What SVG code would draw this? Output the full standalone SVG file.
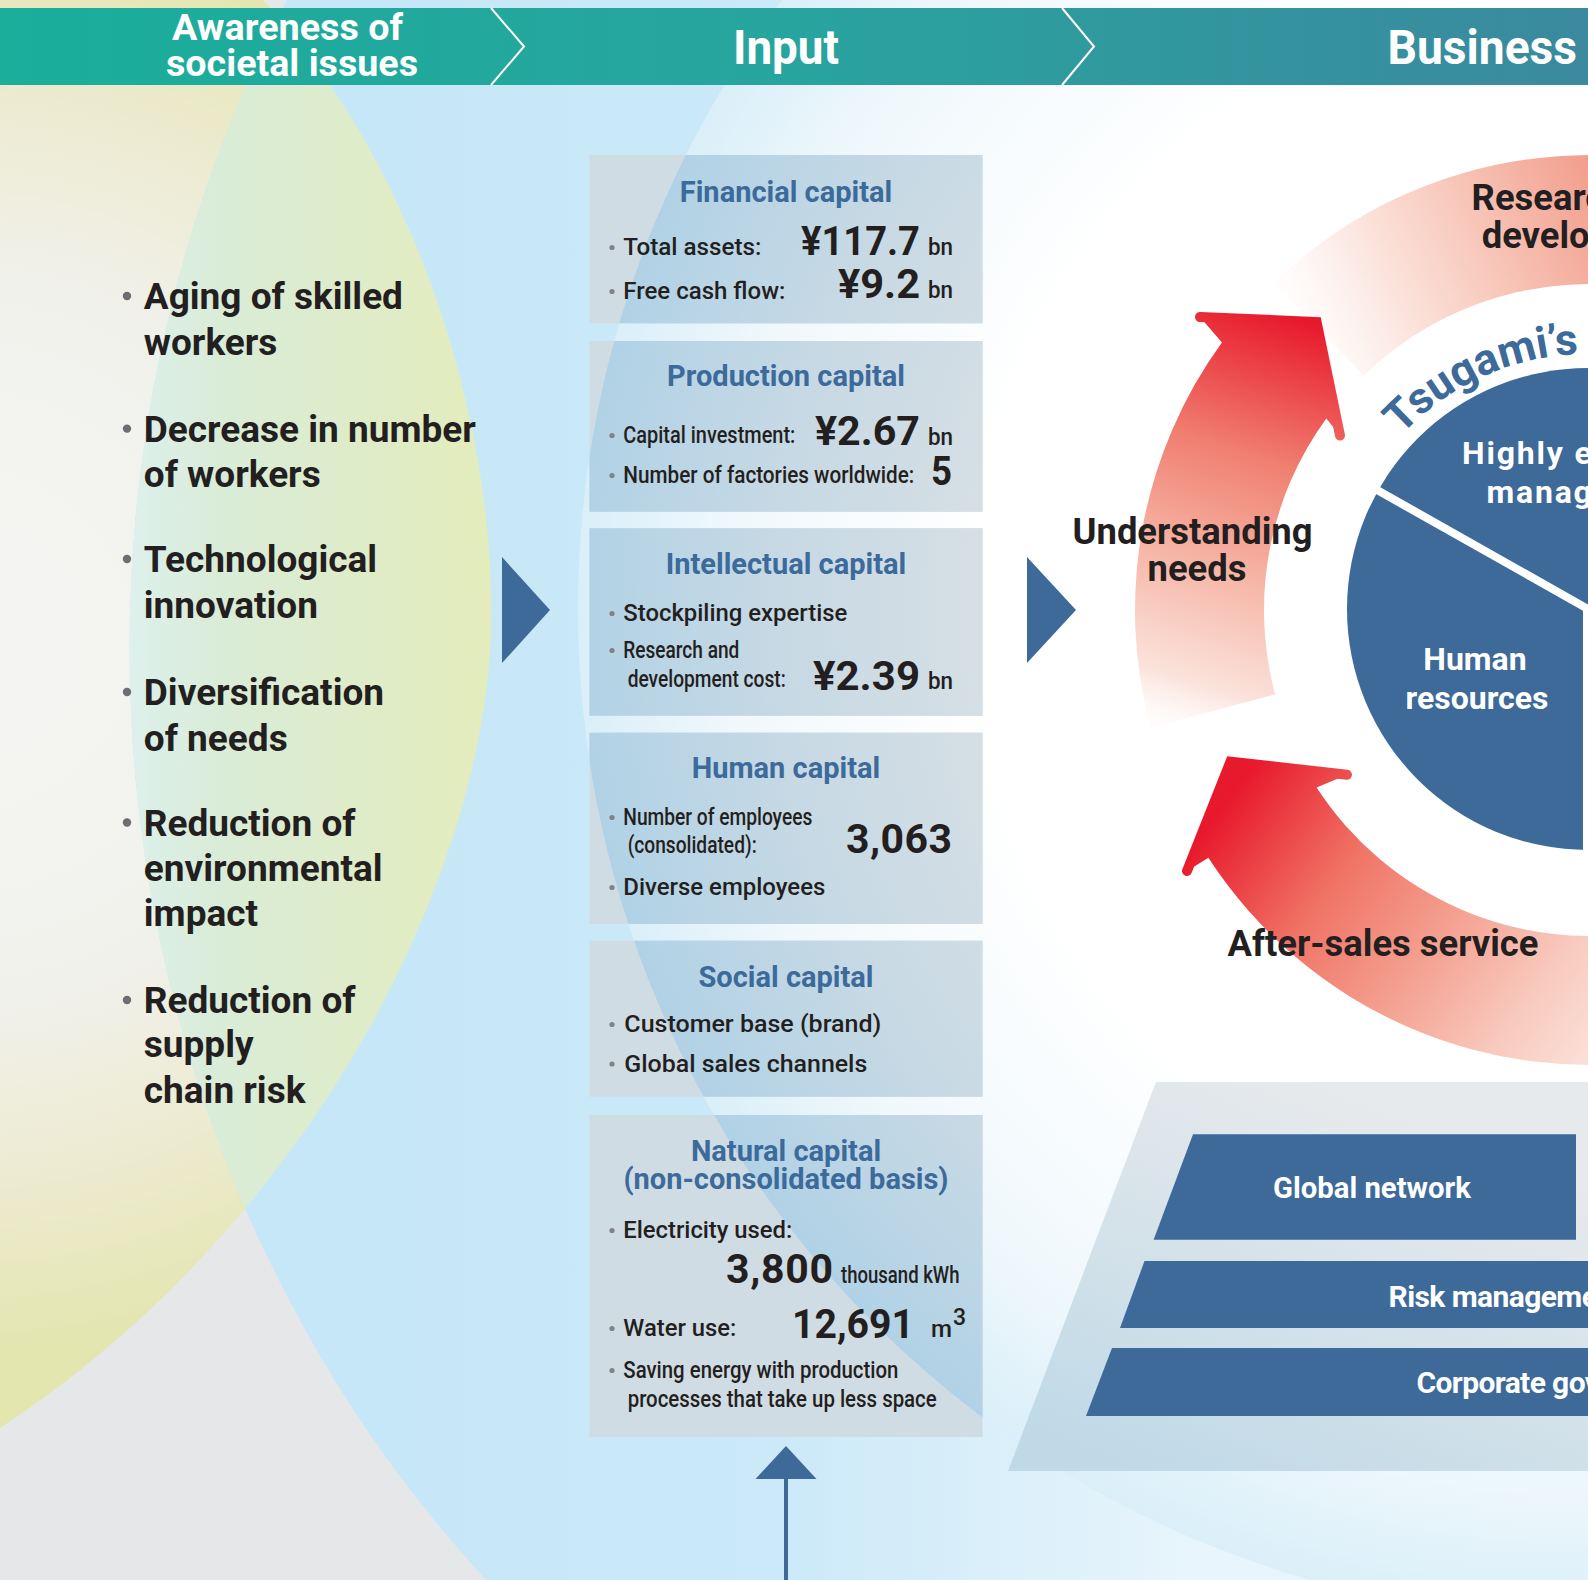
<svg xmlns="http://www.w3.org/2000/svg" xmlns:xlink="http://www.w3.org/1999/xlink" width="1588" height="1580" viewBox="0 0 1588 1580">
<style>
text{font-family:Roboto,"Liberation Sans",sans-serif}
.hdr{font-weight:700;fill:#fff}
.issue{font-size:37px;font-weight:700;fill:#231f20}
.cap{font-size:29px;font-weight:700;fill:#3c6a9a;text-anchor:middle}
.item{font-size:23px;font-weight:500;fill:#231f20}
.num{font-size:41px;font-weight:700;fill:#231f20}
.unit{font-size:23px;font-weight:500;fill:#231f20}
.lbl{font-size:36.4px;font-weight:700;fill:#231f20}
.wht{font-weight:700;fill:#fff}
.bul{fill:#808285}
.ibul{fill:#6d6e71}
.box{fill:#d0dce4}
.boxin{fill:url(#boxBlue)}
.navy{fill:#3d6a99}
</style>
<defs>
<linearGradient id="hdrGrad" gradientUnits="userSpaceOnUse" x1="0" y1="0" x2="1588" y2="0">
<stop offset="0" stop-color="#1aae9b"/><stop offset="0.5" stop-color="#28a49f"/><stop offset="1" stop-color="#3b899e"/>
</linearGradient>
<radialGradient id="yelGrad" gradientUnits="userSpaceOnUse" cx="-40" cy="640" r="720">
<stop offset="0" stop-color="#f5f5f4"/><stop offset="0.5" stop-color="#f1f1ec"/><stop offset="0.78" stop-color="#eceacd"/><stop offset="1" stop-color="#e3e6ae"/>
</radialGradient>
<linearGradient id="greenGrad" gradientUnits="userSpaceOnUse" x1="130" y1="0" x2="495" y2="0">
<stop offset="0" stop-color="#ddf0ec"/><stop offset="0.25" stop-color="#d9ecd7"/><stop offset="1" stop-color="#e4ecbb"/>
</linearGradient>
<linearGradient id="blueGrad" gradientUnits="userSpaceOnUse" x1="250" y1="0" x2="1200" y2="0">
<stop offset="0" stop-color="#c5e7f8"/><stop offset="0.55" stop-color="#cbe9f8"/><stop offset="1" stop-color="#e8f5fc"/>
</linearGradient>
<radialGradient id="c2Grad" gradientUnits="userSpaceOnUse" cx="1588" cy="609" r="1010">
<stop offset="0" stop-color="#ffffff"/><stop offset="0.6" stop-color="#ffffff"/><stop offset="0.85" stop-color="#f0f8fc"/><stop offset="1" stop-color="#daeff9"/>
</radialGradient>
<radialGradient id="boxBlue" gradientUnits="userSpaceOnUse" cx="1588" cy="609" r="1010">
<stop offset="0" stop-color="#d8e0e6"/><stop offset="0.6" stop-color="#d6dfe5"/><stop offset="0.8" stop-color="#c7d9e4"/><stop offset="1" stop-color="#b1d2e6"/>
</radialGradient>
<linearGradient id="a1Grad" gradientUnits="userSpaceOnUse" x1="1165" y1="750" x2="1300" y2="320">
<stop offset="0" stop-color="#ffffff" stop-opacity="0"/><stop offset="0.16" stop-color="#fbe3dc"/><stop offset="0.42" stop-color="#f6b5a6"/><stop offset="0.68" stop-color="#f07f70"/><stop offset="1" stop-color="#e8192c"/>
</linearGradient>
<linearGradient id="a2Grad" gradientUnits="userSpaceOnUse" x1="1600" y1="1060" x2="1235" y2="790">
<stop offset="0" stop-color="#fbe2da"/><stop offset="0.2" stop-color="#f8cabe"/><stop offset="0.45" stop-color="#f4a090"/><stop offset="0.7" stop-color="#f07466"/><stop offset="1" stop-color="#e8192c"/>
</linearGradient>
<linearGradient id="cGrad" gradientUnits="userSpaceOnUse" x1="1260" y1="330" x2="1600" y2="170">
<stop offset="0" stop-color="#ffffff" stop-opacity="0"/><stop offset="0.25" stop-color="#fdf0ec"/><stop offset="0.6" stop-color="#f8cabd"/><stop offset="1" stop-color="#f29c8b"/>
</linearGradient>
<linearGradient id="pyrGrad" gradientUnits="userSpaceOnUse" x1="1300" y1="1082" x2="1150" y2="1471">
<stop offset="0" stop-color="#e4e7ea"/><stop offset="1" stop-color="#bcd7e5"/>
</linearGradient>
<clipPath id="c2clip"><circle cx="1588" cy="609" r="1010"/></clipPath>
<clipPath id="blueClip"><ellipse cx="1344.6" cy="648" rx="1215" ry="1317"/></clipPath>
<path id="tsugamiArc" d="M 1401.5 435.1 A 255 255 0 0 1 1843 609"/>
</defs>

<g id="background">
<rect x="0" y="0" width="1588" height="1580" fill="#e6e7e9"/>
<path d="M 263 0 C 405 152 496 405 491 628 C 486 861 324 1215 0 1428 L 0 0 Z" fill="url(#yelGrad)"/>
<ellipse cx="1344.6" cy="648" rx="1215" ry="1317" fill="url(#blueGrad)"/>
<path d="M 263 0 C 405 152 496 405 491 628 C 486 861 324 1215 0 1428 L 0 0 Z" fill="url(#greenGrad)" clip-path="url(#blueClip)"/>
<circle cx="1588" cy="609" r="1010" fill="url(#c2Grad)"/>
</g>

<g id="header">
<rect x="0" y="8" width="1588" height="77" fill="url(#hdrGrad)"/>
<polyline points="491,8 524,46.5 491,85" fill="none" stroke="#fff" stroke-width="2"/>
<polyline points="1062,8 1094,46.5 1062,85" fill="none" stroke="#fff" stroke-width="2"/>
<text class="hdr" x="172" y="40" font-size="37" textLength="231" lengthAdjust="spacingAndGlyphs">Awareness of</text>
<text class="hdr" x="166" y="76" font-size="37" textLength="252" lengthAdjust="spacingAndGlyphs">societal issues</text>
<text class="hdr" x="733" y="64" font-size="48" textLength="106" lengthAdjust="spacingAndGlyphs">Input</text>
<text class="hdr" x="1387.5" y="64" font-size="48" textLength="189.5" lengthAdjust="spacingAndGlyphs">Business</text>
</g>

<g id="societal-issues">
<circle class="ibul" cx="127" cy="296" r="4.2"/>
<text class="issue" x="143.8" y="309">Aging of skilled</text>
<text class="issue" x="143.8" y="354.5">workers</text>
<circle class="ibul" cx="127" cy="428.6" r="4.2"/>
<text class="issue" x="143.8" y="441.6">Decrease in number</text>
<text class="issue" x="143.8" y="487">of workers</text>
<circle class="ibul" cx="127" cy="559" r="4.2"/>
<text class="issue" x="143.8" y="572">Technological</text>
<text class="issue" x="143.8" y="618">innovation</text>
<circle class="ibul" cx="127" cy="692" r="4.2"/>
<text class="issue" x="143.8" y="705">Diversification</text>
<text class="issue" x="143.8" y="750.5">of needs</text>
<circle class="ibul" cx="127" cy="822.5" r="4.2"/>
<text class="issue" x="143.8" y="835.5">Reduction of</text>
<text class="issue" x="143.8" y="881">environmental</text>
<text class="issue" x="143.8" y="925.7">impact</text>
<circle class="ibul" cx="127" cy="1000" r="4.2"/>
<text class="issue" x="143.8" y="1013">Reduction of</text>
<text class="issue" x="143.8" y="1057">supply</text>
<text class="issue" x="143.8" y="1103">chain risk</text>
</g>

<g id="financial-capital">
<rect class="box" x="589.5" y="155" width="393" height="168.3"/>
<rect class="boxin" x="589.5" y="155" width="393" height="168.3" clip-path="url(#c2clip)"/>
<text class="cap" x="786" y="201.7">Financial capital</text>
<circle class="bul" cx="612" cy="247.5" r="2.6"/>
<text class="item" x="623.3" y="255" textLength="138" lengthAdjust="spacingAndGlyphs">Total assets:</text>
<text class="num" x="801" y="255" textLength="119" lengthAdjust="spacingAndGlyphs">¥117.7</text>
<text class="unit" x="928" y="255" textLength="25" lengthAdjust="spacingAndGlyphs">bn</text>
<circle class="bul" cx="612" cy="291.5" r="2.6"/>
<text class="item" x="623.3" y="299" textLength="162" lengthAdjust="spacingAndGlyphs">Free cash flow:</text>
<text class="num" x="838" y="298" textLength="82" lengthAdjust="spacingAndGlyphs">¥9.2</text>
<text class="unit" x="928" y="298" textLength="25" lengthAdjust="spacingAndGlyphs">bn</text>
</g>

<g id="production-capital">
<rect class="box" x="589.5" y="341" width="393" height="170.7"/>
<rect class="boxin" x="589.5" y="341" width="393" height="170.7" clip-path="url(#c2clip)"/>
<text class="cap" x="786" y="386">Production capital</text>
<circle class="bul" cx="612" cy="435.5" r="2.6"/>
<text class="item" x="623.3" y="443" textLength="172" lengthAdjust="spacingAndGlyphs">Capital investment:</text>
<text class="num" x="815" y="445" textLength="105" lengthAdjust="spacingAndGlyphs">¥2.67</text>
<text class="unit" x="928" y="445" textLength="25" lengthAdjust="spacingAndGlyphs">bn</text>
<circle class="bul" cx="612" cy="475.5" r="2.6"/>
<text class="item" x="623.3" y="483" textLength="291" lengthAdjust="spacingAndGlyphs">Number of factories worldwide:</text>
<text class="num" x="931" y="485" textLength="21" lengthAdjust="spacingAndGlyphs">5</text>
</g>

<g id="intellectual-capital">
<rect class="box" x="589.5" y="528.3" width="393" height="187.4"/>
<rect class="boxin" x="589.5" y="528.3" width="393" height="187.4" clip-path="url(#c2clip)"/>
<text class="cap" x="786" y="574">Intellectual capital</text>
<circle class="bul" cx="612" cy="613.5" r="2.6"/>
<text class="item" x="623.3" y="621" textLength="224" lengthAdjust="spacingAndGlyphs">Stockpiling expertise</text>
<circle class="bul" cx="612" cy="650.5" r="2.6"/>
<text class="item" x="623.3" y="658" textLength="116" lengthAdjust="spacingAndGlyphs">Research and</text>
<text class="item" x="627.7" y="687" textLength="158" lengthAdjust="spacingAndGlyphs">development cost:</text>
<text class="num" x="813" y="690" textLength="107" lengthAdjust="spacingAndGlyphs">¥2.39</text>
<text class="unit" x="928" y="689" textLength="25" lengthAdjust="spacingAndGlyphs">bn</text>
</g>

<g id="human-capital">
<rect class="box" x="589.5" y="732.7" width="393" height="191.3"/>
<rect class="boxin" x="589.5" y="732.7" width="393" height="191.3" clip-path="url(#c2clip)"/>
<text class="cap" x="786" y="778">Human capital</text>
<circle class="bul" cx="612" cy="817.5" r="2.6"/>
<text class="item" x="623.3" y="825" textLength="189" lengthAdjust="spacingAndGlyphs">Number of employees</text>
<text class="item" x="627.7" y="853" textLength="129" lengthAdjust="spacingAndGlyphs">(consolidated):</text>
<text class="num" x="846" y="853" font-size="40" textLength="106">3,063</text>
<circle class="bul" cx="612" cy="887.5" r="2.6"/>
<text class="item" x="623.3" y="895" textLength="202" lengthAdjust="spacingAndGlyphs">Diverse employees</text>
</g>

<g id="social-capital">
<rect class="box" x="589.5" y="940.7" width="393" height="156"/>
<rect class="boxin" x="589.5" y="940.7" width="393" height="156" clip-path="url(#c2clip)"/>
<text class="cap" x="786" y="986.7">Social capital</text>
<circle class="bul" cx="612" cy="1024.5" r="2.6"/>
<text class="item" x="624.3" y="1032" textLength="257" lengthAdjust="spacingAndGlyphs">Customer base (brand)</text>
<circle class="bul" cx="612" cy="1064" r="2.6"/>
<text class="item" x="624.3" y="1071.5" textLength="243" lengthAdjust="spacingAndGlyphs">Global sales channels</text>
</g>

<g id="natural-capital">
<rect class="box" x="589.5" y="1115" width="393" height="322"/>
<rect class="boxin" x="589.5" y="1115" width="393" height="322" clip-path="url(#c2clip)"/>
<text class="cap" x="786" y="1160.5">Natural capital</text>
<text class="cap" x="786" y="1189">(non-consolidated basis)</text>
<circle class="bul" cx="612" cy="1230.5" r="2.6"/>
<text class="item" x="623.3" y="1238" textLength="169" lengthAdjust="spacingAndGlyphs">Electricity used:</text>
<text class="num" x="726" y="1283" font-size="40" textLength="107">3,800</text>
<text class="unit" x="841" y="1283" font-size="21" textLength="118.5" lengthAdjust="spacingAndGlyphs">thousand kWh</text>
<circle class="bul" cx="612" cy="1328.5" r="2.6"/>
<text class="item" x="623.3" y="1336" textLength="113" lengthAdjust="spacingAndGlyphs">Water use:</text>
<text class="num" x="792" y="1338" textLength="122" lengthAdjust="spacingAndGlyphs">12,691</text>
<text class="unit" x="931" y="1337" font-size="24" textLength="21" lengthAdjust="spacingAndGlyphs">m</text>
<text class="unit" x="953" y="1325" font-size="11">3</text>
<circle class="bul" cx="612" cy="1370.5" r="2.6"/>
<text class="item" x="623.3" y="1378" textLength="275" lengthAdjust="spacingAndGlyphs">Saving energy with production</text>
<text class="item" x="627.7" y="1407" textLength="309" lengthAdjust="spacingAndGlyphs">processes that take up less space</text>
</g>

<g id="business-ring">
<path d="M 1273.9 282.7 A 455 455 0 0 1 1817.5 216 L 1753 327.7 A 326 326 0 0 0 1363.5 375.5 Z" fill="url(#cGrad)"/>
</g>

<g id="connectors">
<polygon class="navy" points="502,557 550,610 502,663"/>
<polygon class="navy" points="1027,557 1076,610 1027,663"/>
<polygon class="navy" points="786,1446 816.5,1479 755.5,1479"/>
<line x1="786" y1="1476" x2="786" y2="1580" stroke="#3d6a99" stroke-width="4"/>
<g id="arrow-understanding">
<path d="M 1150.5 727.8 A 455 455 0 0 1 1221.9 342.6 L 1200 317 L 1316.6 322 L 1340 435.5 L 1326.3 418.4 A 326 326 0 0 0 1275.1 694.4 Z" fill="url(#a1Grad)"/>
<polyline points="1200,317 1316.6,322 1340,435.5" fill="none" stroke="url(#a1Grad)" stroke-width="10" stroke-linecap="round" stroke-linejoin="miter"/>
</g>
<g id="arrow-aftersales">
<path d="M 1669 1058.1 A 455 455 0 0 1 1208.4 857.8 L 1187 871 L 1230.5 761.6 L 1347 774.8 L 1316.6 787.6 A 326 326 0 0 0 1646.6 931 Z" fill="url(#a2Grad)"/>
<polyline points="1187,871 1230.5,761.6 1347,774.8" fill="none" stroke="url(#a2Grad)" stroke-width="10" stroke-linecap="round" stroke-linejoin="miter"/>
</g>
</g>

<g id="cycle-labels">
<text class="lbl" x="1471.6" y="209.6">Research and</text>
<text class="lbl" x="1481.7" y="248">development</text>
<text class="lbl" x="1072.5" y="544">Understanding</text>
<text class="lbl" x="1147.5" y="581.4">needs</text>
<text class="lbl" x="1227.5" y="956">After-sales service</text>
</g>

<g id="tsugami-strengths">
<circle class="navy" cx="1588" cy="609" r="241"/>
<line x1="1588" y1="609" x2="1370" y2="486" stroke="#fff" stroke-width="8"/>
<line x1="1587" y1="609" x2="1587" y2="860" stroke="#fff" stroke-width="8"/>
<text font-size="44" font-weight="700" fill="#3c6a9a"><textPath href="#tsugamiArc" xlink:href="#tsugamiArc">Tsugami’s strengths</textPath></text>
<text class="wht" x="1462" y="464" font-size="32" letter-spacing="1.8">Highly efficient</text>
<text class="wht" x="1486.5" y="503" font-size="32" letter-spacing="1.8">management</text>
<text class="wht" x="1475" y="669.5" font-size="32" text-anchor="middle">Human</text>
<text class="wht" x="1477" y="709" font-size="32" text-anchor="middle">resources</text>
</g>

<g id="foundation">
<polygon points="1156,1082 1600,1082 1600,1471 1008,1471" fill="url(#pyrGrad)" opacity="0.9"/>
<g id="global-network">
<polygon class="navy" points="1193,1134.3 1576,1134.3 1576,1239.7 1153.6,1239.7"/>
<text class="wht" x="1372" y="1198" font-size="30" text-anchor="middle" textLength="198" lengthAdjust="spacingAndGlyphs">Global network</text>
</g>
<g id="risk-management">
<polygon class="navy" points="1144.5,1261 1600,1261 1600,1328 1120,1328"/>
<text class="wht" x="1388.6" y="1306.7" font-size="30" letter-spacing="-0.6">Risk management</text>
</g>
<g id="corporate-governance">
<polygon class="navy" points="1112,1348 1600,1348 1600,1416 1086,1416"/>
<text class="wht" x="1416.4" y="1393" font-size="30" letter-spacing="-0.6">Corporate governance</text>
</g>
</g>
</svg>
